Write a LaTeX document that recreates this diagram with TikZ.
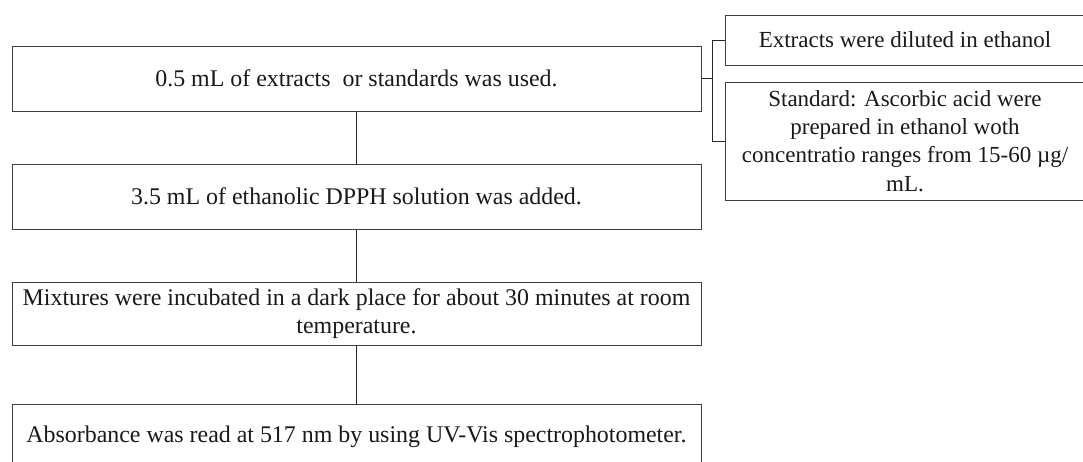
\documentclass[tikz,border=0pt]{standalone}
\usepackage{fontspec}
\setmainfont{Liberation Serif}
\begin{document}
\begin{tikzpicture}[x=1pt,y=-1pt,
  stepbox/.style={draw=black!75, line width=1pt, rectangle, inner sep=0pt, align=center,
    font=\fontsize{23.9}{27.5}\selectfont, text=black!90},
  sidebox/.style={stepbox, font=\fontsize{23}{28.3}\selectfont},
  link/.style={draw=black!85, line width=1pt}]
\useasboundingbox (0,0) rectangle (1083,461);
\clip (0,0) rectangle (1083,461);
\fill[white] (0,0) rectangle (1083,461);
\node[stepbox, minimum width=689pt, minimum height=65pt] (b1) at (356.5,78.5)
  {0.5 mL of extracts~ or standards was used.};
\node[stepbox, minimum width=689pt, minimum height=65pt] (b2) at (356.5,196.5)
  {3.5 mL of ethanolic DPPH solution was added.};
\node[stepbox, minimum width=689pt, minimum height=63pt] (b3) at (356.5,313.5)
  {Mixtures were incubated in a dark place for about 30 minutes at room\\temperature.};
\node[stepbox, minimum width=689pt, minimum height=66pt] (b4) at (356.5,437)
  {Absorbance was read at 517 nm by using UV-Vis spectrophotometer.};
\node[sidebox, minimum width=360pt, minimum height=50pt] (r1) at (905,40)
  {Extracts were diluted in ethanol};
\node[sidebox, minimum width=360pt, minimum height=118pt] (r2) at (905,141)
  {Standard: Ascorbic acid were\\prepared in ethanol woth\\concentratio ranges from 15-60 µg/\\mL.};
\draw[link] (b1) -- (b2);
\draw[link] (b2) -- (b3);
\draw[link] (b3) -- (b4);
\coordinate (k) at (713,78.5);
\draw[link] (b1.east) -- (k);
\draw[link] (r1.west) -- ++(-12,0) |- (r2.west);
\end{tikzpicture}
\end{document}
